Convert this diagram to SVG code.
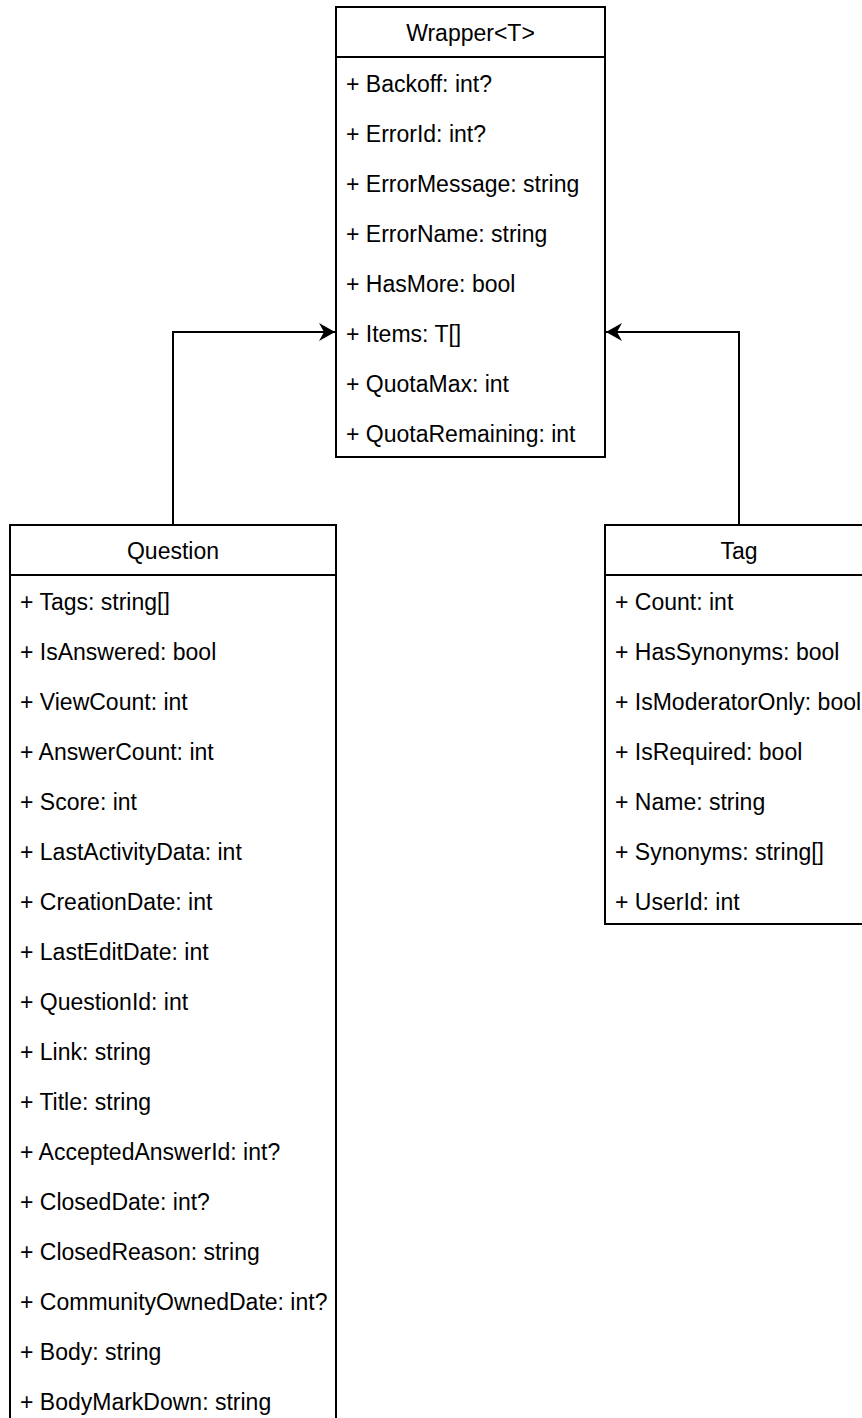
<svg xmlns="http://www.w3.org/2000/svg" width="862" height="1418" viewBox="0 0 862 1418">
  <style>
    .box { fill: #ffffff; stroke: #000000; stroke-width: 2; }
    .sep { stroke: #000000; stroke-width: 2; }
    .title { font-family: "Liberation Sans", Arial, Helvetica, sans-serif; font-size: 23px; fill: #000000; text-anchor: middle; }
    .attr { font-family: "Liberation Sans", Arial, Helvetica, sans-serif; font-size: 23px; fill: #000000; }
    .edge { fill: none; stroke: #000000; stroke-width: 2; }
  </style>
  <defs>
    <marker id="arrow" markerUnits="userSpaceOnUse" markerWidth="18" markerHeight="20" refX="16" refY="9" orient="auto">
      <path d="M0,0 L16,9 L0,18 L5,9 Z" fill="#000000"/>
    </marker>
  </defs>
  <rect width="862" height="1418" fill="#ffffff"/>

  <!-- generalization connectors -->
  <g id="connectors">
    <path class="edge" d="M173,525 V332 H335" marker-end="url(#arrow)"/>
    <path class="edge" d="M739,525 V332 H606" marker-end="url(#arrow)"/>
  </g>

  <!-- Wrapper<T> class -->
  <g id="wrapper">
    <rect class="box" x="336" y="7" width="269" height="450"/>
    <line class="sep" x1="336" y1="57" x2="605" y2="57"/>
    <text class="title" x="470.5" y="41">Wrapper&lt;T&gt;</text>
    <text class="attr" x="346" y="92">+ Backoff: int?</text>
    <text class="attr" x="346" y="142">+ ErrorId: int?</text>
    <text class="attr" x="346" y="192">+ ErrorMessage: string</text>
    <text class="attr" x="346" y="242">+ ErrorName: string</text>
    <text class="attr" x="346" y="292">+ HasMore: bool</text>
    <text class="attr" x="346" y="342">+ Items: T[]</text>
    <text class="attr" x="346" y="392">+ QuotaMax: int</text>
    <text class="attr" x="346" y="442">+ QuotaRemaining: int</text>
  </g>

  <!-- Question class -->
  <g id="question">
    <rect class="box" x="10" y="525" width="326" height="920"/>
    <line class="sep" x1="10" y1="575" x2="336" y2="575"/>
    <text class="title" x="173" y="559">Question</text>
    <text class="attr" x="20" y="610">+ Tags: string[]</text>
    <text class="attr" x="20" y="660">+ IsAnswered: bool</text>
    <text class="attr" x="20" y="710">+ ViewCount: int</text>
    <text class="attr" x="20" y="760">+ AnswerCount: int</text>
    <text class="attr" x="20" y="810">+ Score: int</text>
    <text class="attr" x="20" y="860">+ LastActivityData: int</text>
    <text class="attr" x="20" y="910">+ CreationDate: int</text>
    <text class="attr" x="20" y="960">+ LastEditDate: int</text>
    <text class="attr" x="20" y="1010">+ QuestionId: int</text>
    <text class="attr" x="20" y="1060">+ Link: string</text>
    <text class="attr" x="20" y="1110">+ Title: string</text>
    <text class="attr" x="20" y="1160">+ AcceptedAnswerId: int?</text>
    <text class="attr" x="20" y="1210">+ ClosedDate: int?</text>
    <text class="attr" x="20" y="1260">+ ClosedReason: string</text>
    <text class="attr" x="20" y="1310">+ CommunityOwnedDate: int?</text>
    <text class="attr" x="20" y="1360">+ Body: string</text>
    <text class="attr" x="20" y="1410">+ BodyMarkDown: string</text>
  </g>

  <!-- Tag class -->
  <g id="tag">
    <rect class="box" x="605" y="525" width="268" height="399"/>
    <line class="sep" x1="605" y1="575" x2="873" y2="575"/>
    <text class="title" x="739" y="559">Tag</text>
    <text class="attr" x="615" y="610">+ Count: int</text>
    <text class="attr" x="615" y="660">+ HasSynonyms: bool</text>
    <text class="attr" x="615" y="710">+ IsModeratorOnly: bool</text>
    <text class="attr" x="615" y="760">+ IsRequired: bool</text>
    <text class="attr" x="615" y="810">+ Name: string</text>
    <text class="attr" x="615" y="860">+ Synonyms: string[]</text>
    <text class="attr" x="615" y="910">+ UserId: int</text>
  </g>
</svg>
